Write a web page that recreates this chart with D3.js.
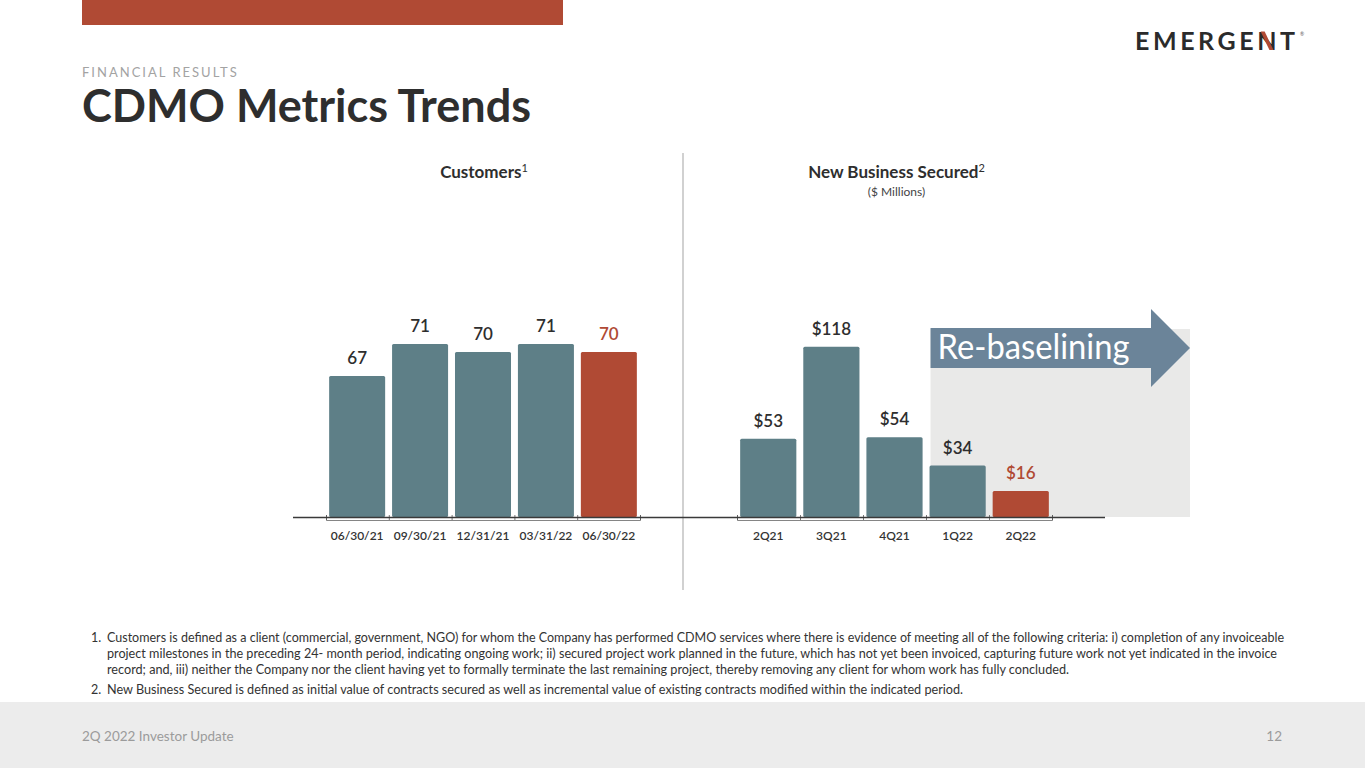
<!DOCTYPE html>
<html>
<head>
<meta charset="utf-8">
<script src="https://cdn.jsdelivr.net/npm/d3@7"></script>
<style>
  html, body { margin: 0; padding: 0; background: #fff; }
  svg { display: block; font-family: "Source Sans Pro", Lato, "Noto Sans", sans-serif; }
</style>
</head>
<body>
<div id="slide"></div>
<script>
// ---- data ----
const CUST_DATES = ["06/30/21", "09/30/21", "12/31/21", "03/31/22", "06/30/22"];
const CUST_VALUES = [67, 71, 70, 71, 70];
const NBS_QUARTERS = ["2Q21", "3Q21", "4Q21", "1Q22", "2Q22"];
const NBS_VALUES = [53, 118, 54, 34, 16];
const FOOTNOTES = [
  ["1.", "Customers is defined as a client (commercial, government, NGO) for whom the Company has performed CDMO services where there is evidence of meeting all of the following criteria: i) completion of any invoiceable", 1177],
  ["", "project milestones in the preceding 24- month period, indicating ongoing work; ii) secured project work planned in the future, which has not yet been invoiced, capturing future work not yet indicated in the invoice", 1170],
  ["", "record; and, iii) neither the Company nor the client having yet to formally terminate the last remaining project, thereby removing any client for whom work has fully concluded.", 962],
  ["2.", "New Business Secured is defined as initial value of contracts secured as well as incremental value of existing contracts modified within the indicated period.", 856]
];

(function () {
  "use strict";

  const W = 1365, H = 768;
  const TEAL = "#5e7f87";
  const RED = "#b04a34";
  const DARK = "#2e2e2e";
  const BASE_Y = 517;

  const svg = d3.select("#slide").append("svg")
    .attr("width", W).attr("height", H)
    .attr("viewBox", `0 0 ${W} ${H}`);

  // header band + titles
  svg.append("rect").attr("x", 82).attr("y", 0).attr("width", 481).attr("height", 25).attr("fill", RED);

  svg.append("text")
    .attr("x", 82).attr("y", 77)
    .attr("fill", "#a3a3a3").attr("font-size", 13).attr("letter-spacing", 2)
    .text("FINANCIAL RESULTS");

  svg.append("text")
    .attr("x", 82).attr("y", 122)
    .attr("fill", DARK).attr("font-size", 45).attr("font-weight", 700)
    .attr("textLength", 449).attr("lengthAdjust", "spacingAndGlyphs")
    .text("CDMO Metrics Trends");

  // logo
  const logo = svg.append("text")
    .attr("x", 1135).attr("y", 50)
    .attr("fill", "#2b2b2b").attr("font-size", 25).attr("font-weight", 700)
    .attr("textLength", 160).attr("lengthAdjust", "spacing")
    .text("EMERGENT");
  try {
    const n = logo.node().getExtentOfChar(6);
    svg.append("path")
      .attr("d", `M${n.x + 3.5},${31.5} L${n.x + 7.5},31.5 L${n.x + n.width - 3},50 L${n.x + n.width - 7},50 Z`)
      .attr("fill", RED);
  } catch (e) {}
  svg.append("text").attr("x", 1300).attr("y", 36).attr("font-size", 5).attr("fill", "#555").text("®");

  // divider
  svg.append("line")
    .attr("x1", 683).attr("x2", 683).attr("y1", 153).attr("y2", 590)
    .attr("stroke", "#c2c2c2").attr("stroke-width", 1.5);

  // ---- scales ----
  const xL = d3.scaleBand().domain(CUST_DATES).range([326, 640]).paddingInner(0.11).paddingOuter(0.05);
  const yL = d3.scaleLinear().domain([49.4, 71]).range([BASE_Y, 344]);
  const xR = d3.scaleBand().domain(NBS_QUARTERS).range([737, 1052]).paddingInner(0.11).paddingOuter(0.05);
  const yR = d3.scaleLinear().domain([-2.4, 118]).range([BASE_Y, 346.7]);

  // re-baselining backdrop and arrow (anchored on 1Q22)
  const bx = xR("1Q22") + 1;
  svg.append("rect")
    .attr("x", bx).attr("y", 329).attr("width", 1190 - bx).attr("height", BASE_Y - 329)
    .attr("fill", "#e9e9e8");
  svg.append("path")
    .attr("d", `M${bx},328 L1151,328 L1151,309 L1190,348 L1151,387 L1151,368 L${bx},368 Z`)
    .attr("fill", "#6b8499");
  svg.append("text")
    .attr("x", bx + 7).attr("y", 359)
    .attr("fill", "#fff").attr("font-size", 35)
    .attr("textLength", 192).attr("lengthAdjust", "spacingAndGlyphs")
    .text("Re-baselining");

  // chart titles
  const t1 = svg.append("text")
    .attr("x", (xL.range()[0] + xL.range()[1]) / 2 + 1).attr("y", 178)
    .attr("text-anchor", "middle").attr("fill", DARK)
    .attr("font-size", 17).attr("font-weight", 700);
  t1.append("tspan").text("Customers");
  t1.append("tspan").attr("font-size", 11).attr("font-weight", 400).attr("dy", -6).text("1");

  const t2 = svg.append("text")
    .attr("x", (xR.range()[0] + xR.range()[1]) / 2 + 2).attr("y", 178)
    .attr("text-anchor", "middle").attr("fill", DARK)
    .attr("font-size", 17).attr("font-weight", 700);
  t2.append("tspan").text("New Business Secured");
  t2.append("tspan").attr("font-size", 11).attr("font-weight", 400).attr("dy", -6).text("2");

  svg.append("text")
    .attr("x", (xR.range()[0] + xR.range()[1]) / 2 + 2).attr("y", 196)
    .attr("text-anchor", "middle").attr("fill", "#444").attr("font-size", 12)
    .text("($ Millions)");

  // ---- bars ----
  function drawBars(cats, vals, x, y, fmt) {
    const last = cats.length - 1;
    const g = svg.append("g");
    g.selectAll("rect")
      .data(cats)
      .enter().append("rect")
      .attr("x", (d) => x(d))
      .attr("y", (d, i) => y(vals[i]))
      .attr("width", x.bandwidth())
      .attr("height", (d, i) => y.range()[0] - y(vals[i]))
      .attr("rx", 1.5)
      .attr("fill", (d, i) => (i === last ? RED : TEAL));

    g.selectAll("text.val")
      .data(cats)
      .enter().append("text")
      .attr("class", "val")
      .attr("x", (d) => x(d) + x.bandwidth() / 2)
      .attr("y", (d, i) => y(vals[i]) - 12)
      .attr("text-anchor", "middle")
      .attr("font-size", 17).attr("font-weight", 600)
      .attr("fill", (d, i) => (i === last ? RED : DARK))
      .text((d, i) => fmt(vals[i]));

    // category boundary ticks
    const r = x.range();
    const edges = d3.scaleLinear().domain([0, cats.length]).range(r);
    const axisG = svg.append("g").attr("transform", `translate(0,${BASE_Y + 3})`);
    axisG.call(d3.axisBottom(edges).ticks(cats.length).tickSize(-5).tickFormat(""))
      .call((a) => a.select(".domain").attr("stroke", "#666").attr("stroke-width", 0.8))
      .call((a) => a.selectAll(".tick line").attr("stroke", "#555").attr("stroke-width", 0.8));

    // labels
    const lab = svg.append("g").attr("transform", `translate(0,${BASE_Y})`)
      .call(d3.axisBottom(x).tickSize(0).tickPadding(14));
    lab.select(".domain").remove();
    lab.selectAll("text")
      .attr("font-family", "Source Sans Pro, Lato, Noto Sans, sans-serif")
      .attr("font-size", 12).attr("font-weight", 600).attr("fill", "#333");
  }

  drawBars(CUST_DATES, CUST_VALUES, xL, yL, (v) => String(v));
  drawBars(NBS_QUARTERS, NBS_VALUES, xR, yR, (v) => "$" + v);

  // baseline across both charts
  svg.append("line")
    .attr("x1", 293).attr("x2", 1105).attr("y1", BASE_Y + 0.5).attr("y2", BASE_Y + 0.5)
    .attr("stroke", "#3a3a3a").attr("stroke-width", 1.3);

  // ---- footnotes ----
  const fy = [642, 658, 674, 694];
  const fn = svg.append("g").attr("fill", "#333").attr("font-size", 12.5);
  FOOTNOTES.forEach((f, i) => {
    if (f[0]) fn.append("text").attr("x", 91).attr("y", fy[i]).text(f[0]);
    fn.append("text")
      .attr("x", 107).attr("y", fy[i])
      .attr("textLength", f[2]).attr("lengthAdjust", "spacingAndGlyphs")
      .text(f[1]);
  });

  // ---- footer ----
  svg.append("rect").attr("x", 0).attr("y", 702).attr("width", W).attr("height", H - 702).attr("fill", "#ececec");
  svg.append("text")
    .attr("x", 82).attr("y", 741)
    .attr("fill", "#9b9b9b").attr("font-size", 13.5)
    .text("2Q 2022 Investor Update");
  svg.append("text")
    .attr("x", 1282).attr("y", 741).attr("text-anchor", "end")
    .attr("fill", "#9b9b9b").attr("font-size", 13.5)
    .text("12");
})();
</script>
</body>
</html>
